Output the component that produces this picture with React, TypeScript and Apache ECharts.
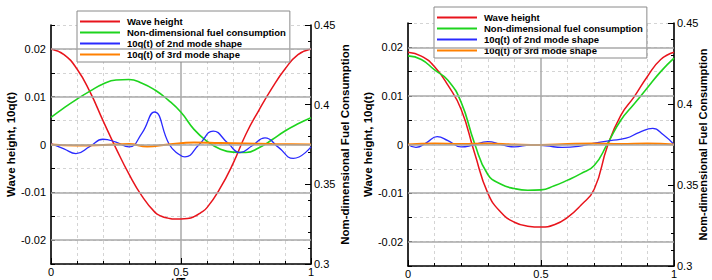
import React, { useEffect, useRef } from "react";
import * as echarts from "echarts";

// ---------- data ----------
const seriesNames = [
  "Wave height",
  "Non-dimensional fuel consumption",
  "10q(t) of 2nd mode shape",
  "10q(t) of 3rd mode shape",
];
const seriesColors = ["#e8141c", "#1ed41e", "#2a2aff", "#ff8000"];

const tGrid = [0, 0.05, 0.1, 0.15, 0.2, 0.25, 0.3, 0.35, 0.4, 0.45, 0.5, 0.55, 0.6, 0.65, 0.7, 0.75, 0.8, 0.85, 0.9, 0.95, 1];

// left panel
const waveLeftT = [0, 0.05, 0.1, 0.15, 0.2, 0.25, 0.3, 0.35, 0.4, 0.425, 0.45, 0.475, 0.5, 0.525, 0.55, 0.575, 0.6, 0.65, 0.7, 0.75, 0.8, 0.85, 0.9, 0.95, 1];
const waveLeft = [0.02, 0.0188, 0.0158, 0.011, 0.005, -0.0008, -0.0062, -0.0108, -0.0142, -0.015, -0.0154, -0.0156, -0.0156, -0.0155, -0.0151, -0.0143, -0.0132, -0.0092, -0.004, 0.0022, 0.0072, 0.0118, 0.0158, 0.0188, 0.02];
const fuelLeft = [0.392, 0.398, 0.4035, 0.4085, 0.413, 0.4155, 0.4158, 0.4135, 0.4092, 0.403, 0.3952, 0.3845, 0.377, 0.3722, 0.3702, 0.37, 0.373, 0.378, 0.3835, 0.388, 0.3918];
const mode2LeftT = [0, 0.05, 0.096, 0.15, 0.2, 0.25, 0.3, 0.35, 0.397, 0.455, 0.49, 0.515, 0.57, 0.624, 0.68, 0.727, 0.775, 0.823, 0.875, 0.932, 1];
const mode2Left = [0.0002, -0.0009, -0.0019, -0.0004, 0.0011, 0.0005, -0.0005, 0.0024, 0.0068, 0.0, -0.002, -0.0026, 0.0, 0.0028, 0.0003, -0.0017, -0.0002, 0.0014, -0.0006, -0.0029, -0.0005];
const mode3LeftT = [0, 0.1, 0.2, 0.3, 0.37, 0.45, 0.55, 0.65, 0.75, 0.85, 1];
const mode3Left = [0.0, -0.0002, -0.0001, 0.0001, -0.0004, 0.0, 0.0004, 0.0003, 0.0002, 0.0001, 0.0];

// right panel
const waveRight = [0.019, 0.0182, 0.016, 0.0122, 0.0072, -0.0017, -0.01, -0.014, -0.016, -0.0168, -0.017, -0.0165, -0.015, -0.0125, -0.0092, -0.0003, 0.006, 0.0098, 0.014, 0.0175, 0.019];
const fuelRight = [0.4297, 0.4275, 0.421, 0.4147, 0.401, 0.3758, 0.3565, 0.3505, 0.3478, 0.3468, 0.347, 0.3495, 0.353, 0.357, 0.362, 0.3755, 0.39, 0.4, 0.41, 0.42, 0.4283];
const mode2RightT = [0, 0.03, 0.07, 0.11, 0.15, 0.2, 0.24, 0.3, 0.35, 0.4, 0.46, 0.52, 0.58, 0.64, 0.7, 0.76, 0.82, 0.87, 0.92, 0.96, 1];
const mode2Right = [0.0, -0.0006, 0.0004, 0.0016, 0.0008, -0.0005, -0.0002, 0.0006, 0.0, -0.0005, -0.0001, -0.0003, -0.0006, -0.0004, 0.0003, 0.0008, 0.0013, 0.0025, 0.0033, 0.002, 0.0];
const mode3RightT = [0, 0.1, 0.2, 0.3, 0.4, 0.5, 0.6, 0.7, 0.8, 0.9, 1];
const mode3Right = [0.0, 0.0002, 0.0001, 0.0002, 0.0, -0.0001, 0.0001, 0.0002, 0.0001, 0.0002, 0.0];

const leftMajorTicks = [-0.02, -0.01, 0, 0.01, 0.02];

const FONT = "'Liberation Sans', Arial, Helvetica, sans-serif";

const pairs = (xs: number[], ys: number[]) => xs.map((x, i) => [x, ys[i]]);

function xAxisCfg(gridIndex: number) {
  return {
    type: "value",
    gridIndex,
    min: 0,
    max: 1,
    interval: 0.5,
    name: "t/Te",
    nameLocation: "middle",
    nameGap: 13,
    nameMoveOverlap: false,
    nameTextStyle: { fontFamily: FONT, fontSize: 12, fontWeight: "bold", color: "#000" },
    axisLine: { show: true, onZero: false, lineStyle: { color: "#000", width: 1.5 } },
    axisTick: { show: true, inside: true, length: 6, lineStyle: { color: "#000" } },
    minorTick: { show: true, splitNumber: 5, length: 3, lineStyle: { color: "#000" } },
    axisLabel: { fontFamily: FONT, fontSize: 11, color: "#000", margin: 2 },
    splitLine: { show: true, lineStyle: { color: "#a8a8a8", width: 1.5 } },
    minorSplitLine: { show: true, lineStyle: { color: "#d4d4d4", type: [3, 3], width: 1 } },
  };
}

function yLeftCfg(gridIndex: number, nameGap: number) {
  return {
    type: "value",
    gridIndex,
    position: "left",
    min: -0.025,
    max: 0.025,
    interval: 0.005,
    name: "Wave height, 10q(t)",
    nameLocation: "middle",
    nameGap,
    nameTextStyle: { fontFamily: FONT, fontSize: 11.5, fontWeight: "bold", color: "#000" },
    axisLine: { show: true, onZero: false, lineStyle: { color: "#000", width: 1.5 } },
    axisTick: { show: true, inside: true, length: 4, lineStyle: { color: "#000" } },
    axisLabel: {
      fontFamily: FONT,
      fontSize: 11,
      color: "#000",
      margin: 5,
      formatter: (v: number) => {
        const k = Math.round(v * 1000);
        return k % 10 === 0 ? String(k / 1000) : "";
      },
    },
    splitLine: { show: true, lineStyle: { color: "#d4d4d4", type: [3, 3], width: 1 } },
  };
}

function yRightCfg(gridIndex: number, nameGap: number, moveOverlap: boolean, fontSize: number) {
  return {
    type: "value",
    gridIndex,
    position: "right",
    min: 0.3,
    max: 0.45,
    interval: 0.05,
    name: "Nom-dimensional Fuel Consumption",
    nameLocation: "middle",
    nameGap,
    nameMoveOverlap: moveOverlap,
    nameTextStyle: { fontFamily: FONT, fontSize, fontWeight: "bold", color: "#000" },
    axisLine: { show: true, onZero: false, lineStyle: { color: "#000", width: 1.5 } },
    axisTick: { show: true, inside: true, length: 6, lineStyle: { color: "#000" } },
    minorTick: { show: true, splitNumber: 5, length: 3, lineStyle: { color: "#000" } },
    axisLabel: { fontFamily: FONT, fontSize: 11, color: "#000", margin: 3 },
    splitLine: { show: false },
  };
}

function legendCfg(left: number, top: number) {
  return {
    left,
    top,
    orient: "vertical",
    data: seriesNames,
    selectedMode: false,
    icon: "rect",
    itemWidth: 40,
    itemHeight: 2,
    itemGap: 0,
    padding: [5, 4, 2, 3],
    backgroundColor: "#ffffff",
    borderColor: "#8a8a8a",
    borderWidth: 1,
    textStyle: { fontFamily: FONT, fontSize: 9.5, fontWeight: "bold", color: "#000", lineHeight: 11, padding: [0, 0, 0, 2] },
  };
}

function panelSeries(
  xIdx: number,
  yL: number,
  yR: number,
  waveT: number[],
  wave: number[],
  fuel: number[],
  m2t: number[],
  m2: number[],
  m3t: number[],
  m3: number[]
) {
  const base = { type: "line", xAxisIndex: xIdx, showSymbol: false, symbol: "none", smooth: true };
  return [
    {
      type: "line",
      name: "",
      xAxisIndex: xIdx,
      yAxisIndex: yL,
      z: 1,
      silent: true,
      showSymbol: false,
      symbol: "none",
      lineStyle: { opacity: 0 },
      data: [[0, 0]],
      markLine: {
        silent: true,
        symbol: "none",
        label: { show: false },
        lineStyle: { color: "#a8a8a8", type: "solid", width: 1.5 },
        data: leftMajorTicks.map((v) => ({ yAxis: v })),
      },
    },
    { ...base, name: seriesNames[0], yAxisIndex: yL, color: seriesColors[0], lineStyle: { width: 1.5 }, data: pairs(waveT, wave) },
    { ...base, name: seriesNames[1], yAxisIndex: yR, color: seriesColors[1], lineStyle: { width: 1.6 }, data: pairs(tGrid, fuel) },
    { ...base, name: seriesNames[2], yAxisIndex: yL, color: seriesColors[2], lineStyle: { width: 1.3 }, data: pairs(m2t, m2) },
    { ...base, name: seriesNames[3], yAxisIndex: yL, color: seriesColors[3], lineStyle: { width: 2 }, data: pairs(m3t, m3) },
  ];
}

export default function App() {
  const ref = useRef<HTMLDivElement>(null);
  useEffect(() => {
    document.body.style.margin = "0";
    if (!ref.current) return;
    const chart = echarts.init(ref.current, undefined, { renderer: "svg" });
    chart.setOption({
      animation: false,
      backgroundColor: "#ffffff",
      textStyle: { fontFamily: FONT },
      grid: [
        { left: 51, right: 401, top: 25, bottom: 16, containLabel: false, outerBoundsMode: "none" },
        { left: 408, right: 38, top: 23, bottom: 14, containLabel: false, outerBoundsMode: "none" },
      ],
      legend: [legendCfg(77, 11), legendCfg(434, 7)],
      xAxis: [xAxisCfg(0), xAxisCfg(1)],
      yAxis: [yLeftCfg(0, 32), yRightCfg(0, 26, true, 11.5), yLeftCfg(1, 30), yRightCfg(1, 23, false, 11)],
      series: [
        ...panelSeries(0, 0, 1, waveLeftT, waveLeft, fuelLeft, mode2LeftT, mode2Left, mode3LeftT, mode3Left),
        ...panelSeries(1, 2, 3, tGrid, waveRight, fuelRight, mode2RightT, mode2Right, mode3RightT, mode3Right),
      ],
    });
    return () => chart.dispose();
  }, []);
  return <div ref={ref} style={{ width: 712, height: 280 }} />;
}
